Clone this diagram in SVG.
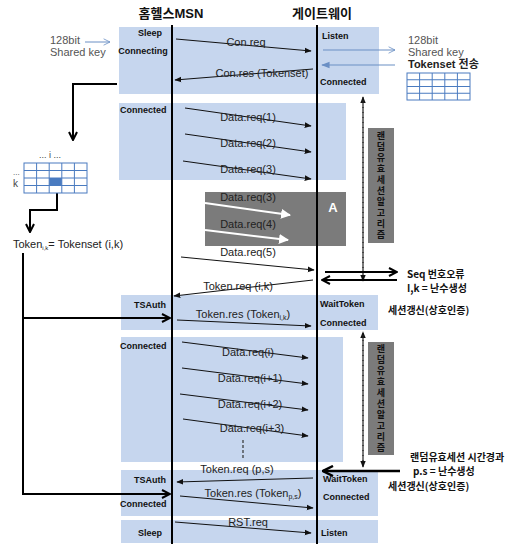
<svg xmlns="http://www.w3.org/2000/svg" width="522" height="544" viewBox="0 0 522 544">
<defs>
<style>
.reg{fill:#c6d6ee}
.st{font-family:"Liberation Sans",Arial,sans-serif;font-size:9px;font-weight:bold;fill:#111}
.lb{font-family:"Liberation Sans",Arial,sans-serif;font-size:11px;fill:#222}
.hd{font-family:"Liberation Sans","Noto Sans CJK KR",sans-serif;font-size:13px;font-weight:bold;fill:#111}
.kr{font-family:"Noto Sans CJK KR","Liberation Sans",sans-serif;font-size:10px;font-weight:bold;fill:#111}
.vt{font-family:"Noto Sans CJK KR",sans-serif;font-size:9px;font-weight:bold;fill:#111;writing-mode:vertical-rl;letter-spacing:2px}
.note{font-family:"Liberation Sans","Noto Sans CJK KR",sans-serif;font-size:11px;fill:#555}
.msg{stroke:#111;stroke-width:1;fill:none}
.life{stroke:#000;stroke-width:2}
.flow{stroke:#000;stroke-width:2;fill:none}
.dash{stroke:#222;stroke-width:1.2;stroke-dasharray:3,2;fill:none}
.grid{fill:#fff;stroke:#4a7bc0;stroke-width:1}
</style>
<marker id="ah" viewBox="0 0 10 10" refX="9" refY="5" markerWidth="7" markerHeight="7" orient="auto"><path d="M0,1 L10,5 L0,9 z" fill="#111"/></marker>
<marker id="aw" viewBox="0 0 10 10" refX="9" refY="5" markerWidth="5" markerHeight="5" orient="auto"><path d="M0,0 L10,5 L0,10 z" fill="#fff"/></marker>
<marker id="ao" viewBox="0 0 10 10" refX="9" refY="5" markerWidth="5" markerHeight="5" orient="auto"><path d="M1,1 L9,5 L1,9" fill="none" stroke="#000" stroke-width="2"/></marker>
<marker id="ab" viewBox="0 0 10 10" refX="9" refY="5" markerWidth="8" markerHeight="8" orient="auto"><path d="M1,1 L9,5 L1,9" fill="none" stroke="#6a8fc4" stroke-width="1"/></marker>
<marker id="abf" viewBox="0 0 10 10" refX="9" refY="5" markerWidth="7" markerHeight="7" orient="auto"><path d="M0,1 L10,5 L0,9 z" fill="#6a8fc4"/></marker>
<marker id="ad" viewBox="0 0 10 10" refX="9" refY="5" markerWidth="6" markerHeight="6" orient="auto"><path d="M0,1 L10,5 L0,9 z" fill="#111"/></marker>
</defs>
<rect width="522" height="544" fill="#fff"/>

<g id="regions">
<rect class="reg" x="119" y="27" width="260" height="67"/>
<rect class="reg" x="119" y="103" width="227" height="77"/>
<rect class="reg" x="121" y="295" width="257" height="35"/>
<rect class="reg" x="121" y="337" width="222" height="125"/>
<rect class="reg" x="121" y="470" width="257" height="46"/>
<rect class="reg" x="121" y="520" width="257" height="23"/>
</g>

<g id="box-A">
<rect x="205" y="192" width="141" height="54" fill="#7b7b7b"/>
<text x="333" y="212" font-family="Liberation Sans,Arial,sans-serif" font-size="13" font-weight="bold" fill="#fff" text-anchor="middle">A</text>
</g>

<g id="algo1">
<rect x="368" y="128" width="26" height="115" fill="#7b7b7b"/>
<text class="vt" x="381" y="131">랜덤유효세션알고리즘</text>
</g>
<g id="algo2">
<rect x="368" y="342" width="26" height="113" fill="#7b7b7b"/>
<text class="vt" x="381" y="344">랜덤유효세션알고리즘</text>
</g>

<g id="headers">
<text class="hd" x="171" y="18" text-anchor="middle">홈헬스MSN</text>
<text class="hd" x="322" y="18" text-anchor="middle">게이트웨이</text>
</g>

<g id="lifelines">
<line class="life" x1="172" y1="25" x2="172" y2="544"/>
<line class="life" x1="317" y1="25" x2="317" y2="544"/>
</g>

<g id="states">
<text class="st" x="150" y="36" text-anchor="middle">Sleep</text>
<text class="st" x="143" y="54" text-anchor="middle">Connecting</text>
<text class="st" x="322" y="39">Listen</text>
<text class="st" x="320" y="85">Connected</text>
<text class="st" x="120" y="113">Connected</text>
<text class="st" x="150" y="308" text-anchor="middle">TSAuth</text>
<text class="st" x="320" y="307">WaitToken</text>
<text class="st" x="320" y="326">Connected</text>
<text class="st" x="120" y="349">Connected</text>
<text class="st" x="150" y="483" text-anchor="middle">TSAuth</text>
<text class="st" x="120" y="507">Connected</text>
<text class="st" x="323" y="482">WaitToken</text>
<text class="st" x="323" y="500">Connected</text>
<text class="st" x="150" y="536" text-anchor="middle">Sleep</text>
<text class="st" x="321" y="536">Listen</text>
</g>

<g id="connectors">
<line class="msg" x1="176" y1="39" x2="311" y2="51" marker-end="url(#ah)"/>
<line class="msg" x1="313" y1="69" x2="175" y2="80" marker-end="url(#ah)"/>
<line class="msg" x1="185" y1="108" x2="311" y2="126" marker-end="url(#ah)"/>
<line class="msg" x1="185" y1="134" x2="311" y2="152" marker-end="url(#ah)"/>
<line class="msg" x1="183" y1="161" x2="311" y2="179" marker-end="url(#ah)"/>
<line x1="205" y1="203" x2="290" y2="215" stroke="#fff" stroke-width="2" marker-end="url(#aw)"/>
<line x1="205" y1="230" x2="288" y2="240" stroke="#fff" stroke-width="2" marker-end="url(#aw)"/>
<line class="msg" x1="181" y1="257" x2="314" y2="270" marker-end="url(#ah)"/>
<line class="msg" x1="313" y1="280" x2="174" y2="296" marker-end="url(#ah)"/>
<line class="msg" x1="177" y1="320" x2="311" y2="326" marker-end="url(#ah)"/>
<line class="msg" x1="182" y1="342" x2="308" y2="358" marker-end="url(#ah)"/>
<line class="msg" x1="182" y1="368" x2="308" y2="384" marker-end="url(#ah)"/>
<line class="msg" x1="180" y1="394" x2="308" y2="410" marker-end="url(#ah)"/>
<line class="msg" x1="183" y1="419" x2="308" y2="436" marker-end="url(#ah)"/>
<line x1="243" y1="440" x2="243" y2="458" stroke="#333" stroke-width="1.2" stroke-dasharray="3,2"/>
<line class="msg" x1="313" y1="478" x2="177" y2="482" marker-end="url(#ah)"/>
<line class="msg" x1="180" y1="496" x2="313" y2="508" marker-end="url(#ah)"/>
<line class="msg" x1="175" y1="522" x2="311" y2="533" marker-end="url(#ah)"/>
<line x1="85" y1="42" x2="110" y2="42" stroke="#6a8fc4" stroke-width="1" marker-end="url(#ab)"/>
<line x1="323" y1="50" x2="395" y2="50" stroke="#6a8fc4" stroke-width="1" marker-end="url(#ab)"/>
<line x1="395" y1="65" x2="322" y2="65" stroke="#6a8fc4" stroke-width="1.2" marker-end="url(#abf)"/>
<polyline class="flow" points="117,84 73,84 73,140" marker-end="url(#ao)"/>
<polyline class="flow" points="57,187 57,210 30,210 30,232" marker-end="url(#ao)"/>
<polyline class="flow" points="23,253 23,494 170,494" marker-end="url(#ao)"/>
<line class="flow" x1="23" y1="318" x2="170" y2="318" marker-end="url(#ao)"/>
<line class="dash" x1="363" y1="280" x2="363" y2="97" marker-end="url(#ad)"/>
<line class="dash" x1="363" y1="100" x2="363" y2="281" marker-end="url(#ad)"/>
<line class="dash" x1="363" y1="466" x2="363" y2="332" marker-end="url(#ad)"/>
<line class="dash" x1="363" y1="335" x2="363" y2="467" marker-end="url(#ad)"/>
<line class="flow" x1="325" y1="272" x2="397" y2="272" marker-end="url(#ao)"/>
<line class="flow" x1="397" y1="280" x2="322" y2="280" marker-end="url(#ao)"/>
<line x1="400" y1="471" x2="323" y2="471" stroke="#000" stroke-width="2.5" marker-end="url(#ao)"/>
</g>

<g id="labels">
<text class="lb" x="246" y="46" text-anchor="middle">Con.req</text>
<text class="lb" x="262" y="77" text-anchor="middle">Con.res (Tokenset)</text>
<text class="lb" x="248" y="121" text-anchor="middle">Data.req(1)</text>
<text class="lb" x="248" y="147" text-anchor="middle">Data.req(2)</text>
<text class="lb" x="248" y="173" text-anchor="middle">Data.req(3)</text>
<text class="lb" x="248" y="201" text-anchor="middle">Data.req(3)</text>
<text class="lb" x="248" y="228" text-anchor="middle">Data.req(4)</text>
<text class="lb" x="248" y="256" text-anchor="middle">Data.req(5)</text>
<text class="lb" x="238" y="290" text-anchor="middle">Token.req (i,k)</text>
<text class="lb" x="243" y="318" text-anchor="middle">Token.res (Token<tspan font-size="7" dy="2">i,k</tspan><tspan dy="-2">)</tspan></text>
<text class="lb" x="248" y="356" text-anchor="middle">Data.req(i)</text>
<text class="lb" x="250" y="382" text-anchor="middle">Data.req(i+1)</text>
<text class="lb" x="250" y="408" text-anchor="middle">Data.req(i+2)</text>
<text class="lb" x="252" y="432" text-anchor="middle">Data.req(i+3)</text>
<text class="lb" x="237" y="473" text-anchor="middle">Token.req (p,s)</text>
<text class="lb" x="253" y="497" text-anchor="middle">Token.res (Token<tspan font-size="7" dy="2">p,s</tspan><tspan dy="-2">)</tspan></text>
<text class="lb" x="248" y="526" text-anchor="middle">RST.req</text>
</g>

<g id="keys-left">
<text class="note"><tspan x="50" y="44">128bit</tspan><tspan x="50" y="56">Shared key</tspan></text>
</g>
<g id="keys-right">
<text class="note"><tspan x="408" y="44">128bit</tspan><tspan x="408" y="56">Shared key</tspan></text>
<text x="408" y="68" font-family="Liberation Sans,Noto Sans CJK KR,sans-serif" font-size="11" font-weight="bold" fill="#222">Tokenset 전송</text>
<g id="table-right">
<rect class="grid" x="407" y="73" width="63" height="27"/>
<path d="M419.6,73V100M432.2,73V100M444.8,73V100M457.4,73V100M407,79.75H470M407,86.5H470M407,93.25H470" stroke="#4a7bc0" stroke-width="1"/>
</g>
</g>

<g id="table-left">
<text x="50" y="158" font-family="Liberation Sans,Arial,sans-serif" font-size="9" fill="#444" text-anchor="middle">... i ...</text>
<text x="13" y="175" font-family="Liberation Sans,Arial,sans-serif" font-size="8" fill="#444">...</text>
<text x="13" y="187" font-family="Liberation Sans,Arial,sans-serif" font-size="10" fill="#444">k</text>
<rect class="grid" x="24" y="163" width="63" height="30"/>
<rect x="49.2" y="178" width="12.6" height="7.5" fill="#4a7bc0"/>
<path d="M36.6,163V193M49.2,163V193M61.8,163V193M74.4,163V193M24,170.5H87M24,178H87M24,185.5H87" stroke="#4a7bc0" stroke-width="1"/>
</g>

<g id="token-eq">
<text x="13" y="248" font-family="Liberation Sans,Arial,sans-serif" font-size="11" fill="#222">Token<tspan font-size="6" dy="2">i,k</tspan><tspan dy="-2">= Tokenset (i,k)</tspan></text>
</g>

<g id="notes-right">
<text class="kr" x="407" y="278">Seq 번호오류</text>
<text class="kr" x="407" y="292">I,k = 난수생성</text>
<text class="kr" x="388" y="314">세션갱신(상호인증)</text>
<text class="kr" x="410" y="461">랜덤유효세션 시간경과</text>
<text class="kr" x="413" y="475">p.s = 난수생성</text>
<text class="kr" x="388" y="490">세션갱신(상호인증)</text>
</g>
</svg>
